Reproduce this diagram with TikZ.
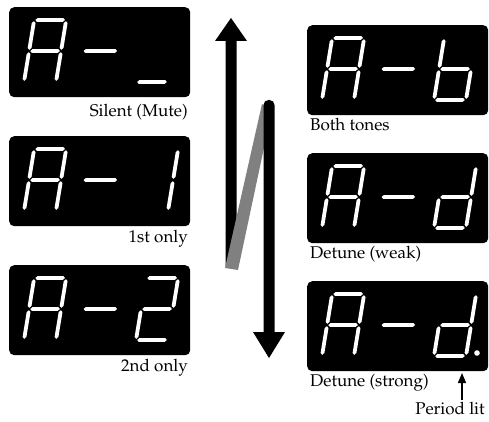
\documentclass[tikz,border=0pt]{standalone}
\usepackage[T1]{fontenc}
\usepackage{mathpazo}
\usetikzlibrary{arrows.meta}
\tikzset{
  disp/.style={fill=black, rounded corners=5pt, minimum width=181pt, minimum height=90pt, inner sep=0pt, anchor=north west},
  segfill/.style={fill=white},
  lbl/.style={font=\fontsize{17}{20}\selectfont, inner sep=0pt},
  bigarrow/.style={fill=black},
  band/.style={fill=black!50}
}
% horizontal segment: x1, x2, y ; vertical segment: x, y1, y2  (y measured downward, digit bottom = 0)
\newcommand\hseg[3]{\fill[segfill] (#1,#3) -- (#1+1.9,#3-1.9) -- (#2-1.9,#3-1.9) -- (#2,#3) -- (#2-1.9,#3+1.9) -- (#1+1.9,#3+1.9) -- cycle;}
\newcommand\vseg[3]{\fill[segfill] (#1,#2) -- (#1+1.9,#2+1.9) -- (#1+1.9,#3-1.9) -- (#1,#3) -- (#1-1.9,#3-1.9) -- (#1-1.9,#2+1.9) -- cycle;}
\newcommand\sgA{\hseg{1.2}{30.8}{-62}}
\newcommand\sgB{\vseg{32}{-60.8}{-32.2}}
\newcommand\sgC{\vseg{32}{-29.8}{-1.2}}
\newcommand\sgD{\hseg{1.2}{30.8}{0}}
\newcommand\sgE{\vseg{0}{-29.8}{-1.2}}
\newcommand\sgF{\vseg{0}{-60.8}{-32.2}}
\newcommand\sgG{\hseg{1.2}{30.8}{-31}}
\newcommand\sgH{\hseg{-0.5}{33}{-31}}
\newcommand\sevdigit[3]{%
  \begin{scope}[shift={(#1,#2)}, xslant=0.164]
    \foreach \s in {#3}{\csname sg\s\endcsname}
  \end{scope}}
\newcommand\display[6]{%
  \node[disp] (#1) at (#2,#3) {};
  \sevdigit{#2+15}{#3+75}{#4}
  \sevdigit{#2+70}{#3+75}{#5}
  \sevdigit{#2+127}{#3+75}{#6}}
\begin{document}
\begin{tikzpicture}[x=1pt,y=-1pt]
\useasboundingbox (0,0) rectangle (489,422);
% left column
\display{mute}{9}{7}{A,B,C,E,F,G}{H}{D}
\display{first}{9}{136}{A,B,C,E,F,G}{H}{B,C}
\display{second}{9}{265}{A,B,C,E,F,G}{H}{A,B,G,E,D}
% right column
\display{both}{307}{25}{A,B,C,E,F,G}{H}{F,E,G,C,D}
\display{weak}{307}{153}{A,B,C,E,F,G}{H}{B,C,G,E,D}
\display{strong}{307}{281}{A,B,C,E,F,G}{H}{B,C,G,E,D}
\fill[white] (477,353) circle (2.8);
% labels
\node[lbl, anchor=east] (lmute) at (188,112) {Silent (Mute)};
\node[lbl, anchor=east] (lfirst) at (188,239) {1st only};
\node[lbl, anchor=east] (lsecond) at (188,368) {2nd only};
\node[lbl, anchor=west] (lboth) at (310,125) {Both tones};
\node[lbl, anchor=west] (lweak) at (310,254) {Detune (weak)};
\node[lbl, anchor=west] (lstrong) at (310,383) {Detune (strong)};
\node[lbl] (lperiod) at (450,409) {Period lit};
\coordinate (ptip) at (462,373);
\draw[line width=1.3pt, -{Triangle[length=10pt,width=8pt]}] (lperiod.north -| ptip) ++(0,-2) -- (ptip);
% big arrows
\fill[bigarrow] (225.5,266) -- (225.5,41) -- (215,41) -- (231,18) -- (247,41) -- (236.5,41) -- (236.5,266) -- cycle;
\fill[band] (262,104) -- (272,110) -- (238,270) -- (225,268) -- cycle;
\fill[bigarrow, rounded corners=5pt] (263.5,333) -- (263.5,100) -- (274.5,100) -- (274.5,333);
\fill[bigarrow] (263.5,332) -- (253,332) -- (269,358) -- (285,332) -- (274.5,332) -- cycle;
\end{tikzpicture}
\end{document}
